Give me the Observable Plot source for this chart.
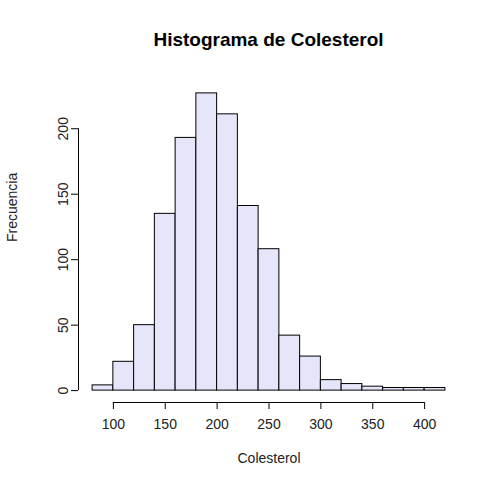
<!DOCTYPE html>
<html><head><meta charset="utf-8">
<script src="https://cdn.jsdelivr.net/npm/d3@7"></script>
<script src="https://cdn.jsdelivr.net/npm/@observablehq/plot@0.6"></script>
<style>body{margin:0;background:#fff}#c{position:relative;width:500px;height:500px;font-family:"Liberation Sans",Arial,sans-serif}
#t{position:absolute;top:29px;left:78px;width:381px;text-align:center;font-weight:bold;font-size:19px}</style>
</head><body><div id="c"><div id="t">Histograma de Colesterol</div></div>
<script>
const binStarts = [80,100,120,140,160,180,200,220,240,260,280,300,320,340,360,380,400];
const counts = [4,22,50,135,193,227,211,141,108,42,26,8,5,3,2,2,2];
const xTicks = [100,150,200,250,300,350,400];
const yTicks = [0,50,100,150,200];
const bins = binStarts.map((s,i)=>({x1:s,x2:s+20,y:counts[i]}));
const yb = -9.08, xl = 66.4;
const chart = Plot.plot({
  width:500,height:500,marginLeft:78,marginRight:41,marginTop:81,marginBottom:98,
  x:{domain:[66.4,433.6],axis:null},y:{domain:[-9.08,236.08],axis:null},
  style:{fontFamily:"Liberation Sans, Arial, sans-serif",fontSize:"14px"},
  marks:[
    Plot.rectY(bins,{x1:"x1",x2:"x2",y:"y",fill:"#e6e6fa",stroke:"black",strokeWidth:1,inset:0}),
    Plot.ruleY([yb],{x1:100,x2:400,stroke:"black"}),
    Plot.axisX({ticks:xTicks,anchor:"bottom",tickSize:7,tickPadding:10,label:null,fontSize:14,fill:"#222"}),
    Plot.ruleX([xl],{y1:0,y2:200,stroke:"black"}),
    Plot.axisY({ticks:yTicks,anchor:"left",tickSize:7,tickPadding:4,label:null,tickRotate:-90,fontSize:14,fill:"#222"}),
    Plot.text(["Colesterol"],{frameAnchor:"bottom",dy:60,fontSize:14,fill:"#222"}),
    Plot.text(["Frecuencia"],{frameAnchor:"left",dx:-66,rotate:-90,fontSize:14,fill:"#222"})
  ]
});
document.getElementById("c").appendChild(chart);
</script></body></html>
